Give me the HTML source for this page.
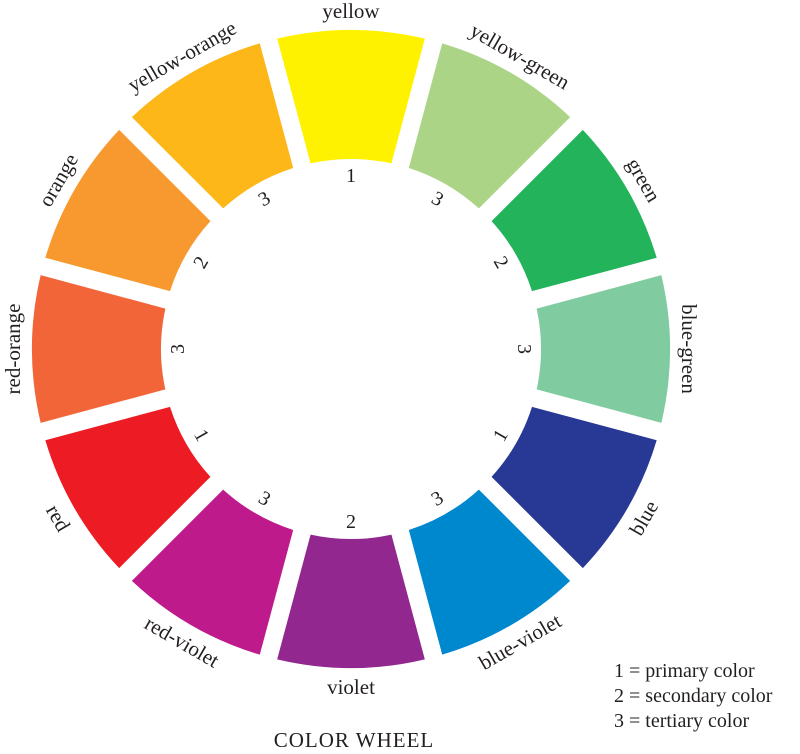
<!DOCTYPE html>
<html><head><meta charset="utf-8">
<style>
html,body{margin:0;padding:0;background:#fff;}
svg{display:block;}
text{font-family:"Liberation Serif",serif;fill:#231f20;}
</style></head>
<body>
<svg id="wheel" width="800" height="754" viewBox="0 0 800 754" xmlns="http://www.w3.org/2000/svg">
<g id="segs"></g>
<g id="labels"></g>
<g id="nums"></g>
<text x="354" y="747" font-size="21" letter-spacing="1" text-anchor="middle">COLOR WHEEL</text>
<g font-size="20">
<text x="614" y="677">1 = primary color</text>
<text x="614" y="702">2 = secondary color</text>
<text x="614" y="727">3 = tertiary color</text>
</g>
</svg>
<script>
const names = ["yellow","yellow-green","green","blue-green","blue","blue-violet","violet","red-violet","red","red-orange","orange","yellow-orange"];
const colors = ["#fff200","#acd486","#22b35b","#80cba0","#283895","#0088cf","#92278f","#be1a8c","#ed1c24","#f26539","#f7992e","#fdb718"];
const levels = [1,3,2,3,1,3,2,3,1,3,2,3];

const cx=351, cy=349, R=319, r=190, gap=18, NS="http://www.w3.org/2000/svg";
function pt(rad, phi, side){
  const h=gap/2, rr=Math.sqrt(rad*rad-h*h);
  const ux=Math.cos(phi), uy=Math.sin(phi), nx=-uy, ny=ux;
  return [cx+rr*ux+side*h*nx, cy+rr*uy+side*h*ny];
}
const segs=document.getElementById('segs'), labels=document.getElementById('labels'), nums=document.getElementById('nums');
names.forEach((n,i)=>{
  const a=(-90+i*30)*Math.PI/180, a0=a-15*Math.PI/180, a1=a+15*Math.PI/180;
  const p1=pt(R,a0,1), p2=pt(R,a1,-1), p3=pt(r,a1,-1), p4=pt(r,a0,1);
  const d=`M${p1}A${R},${R} 0 0 1 ${p2}L${p3}A${r},${r} 0 0 0 ${p4}Z`;
  const path=document.createElementNS(NS,'path');
  path.setAttribute('d',d); path.setAttribute('fill',colors[i]);
  
  
  segs.appendChild(path);
  const deg=-90+i*30;
  const bottom = deg>0 && deg<180;
  const rot = bottom ? deg-90 : deg+90;
  const lx=cx+338*Math.cos(a), ly=cy+338*Math.sin(a);
  const t=document.createElementNS(NS,'text');
  t.setAttribute('x',lx); t.setAttribute('y',ly);
  t.setAttribute('font-size','21'); t.setAttribute('text-anchor','middle');
  t.setAttribute('dominant-baseline','central');
  t.setAttribute('transform',`rotate(${rot} ${lx} ${ly})`);
  t.textContent=n;
  
  
  labels.appendChild(t);
  const nx=cx+173*Math.cos(a), ny=cy+173*Math.sin(a);
  const u=document.createElementNS(NS,'text');
  u.setAttribute('x',nx); u.setAttribute('y',ny);
  u.setAttribute('font-size','20'); u.setAttribute('text-anchor','middle');
  u.setAttribute('dominant-baseline','central');
  u.setAttribute('transform',`rotate(${rot} ${nx} ${ny})`);
  u.textContent=levels[i];
  
  
  nums.appendChild(u);
});
</script>
</body></html>
